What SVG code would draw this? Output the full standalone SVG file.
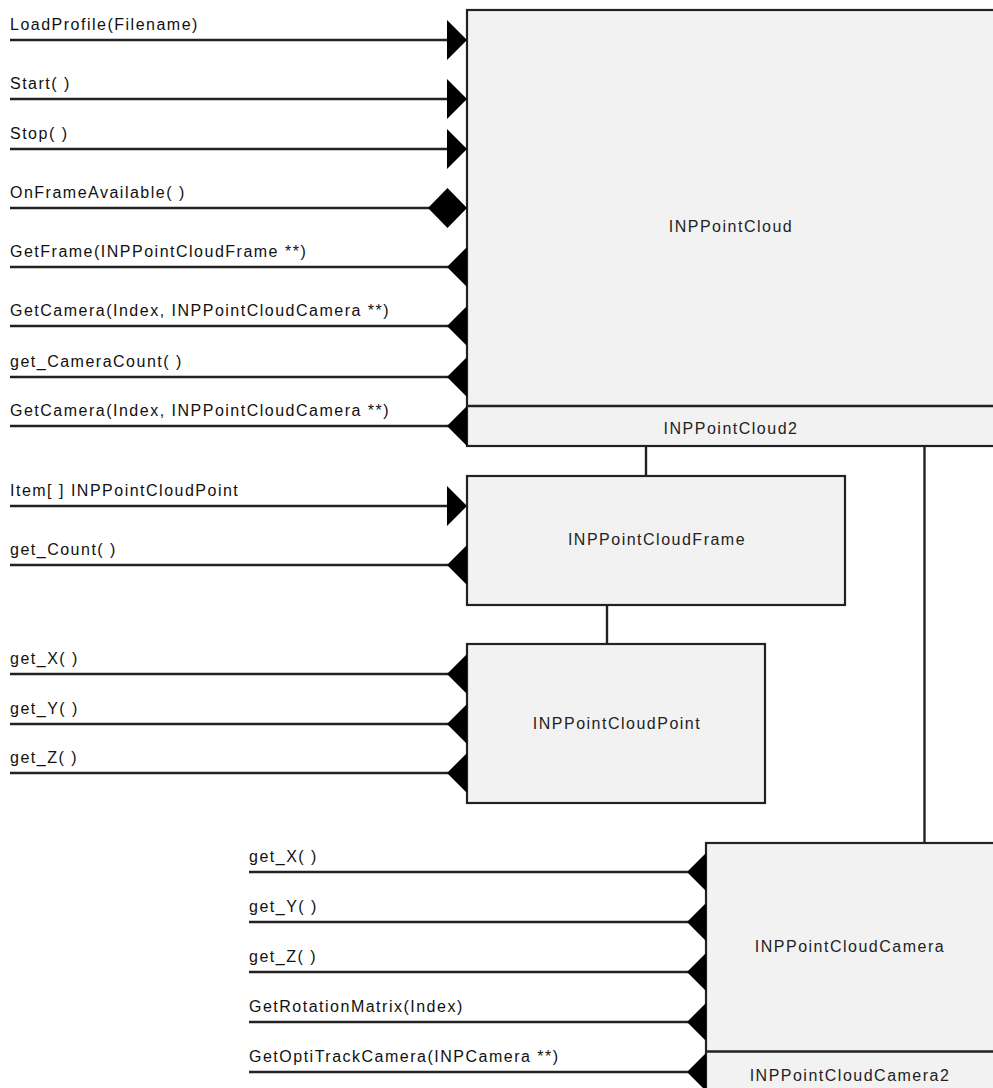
<svg xmlns="http://www.w3.org/2000/svg" width="993" height="1088" viewBox="0 0 993 1088">
<style>
.bg{fill:#ffffff}
.box{fill:#f2f2f2;stroke:#222;stroke-width:2.2}
.ln{stroke:#222;stroke-width:2.4;fill:none}
.ah{fill:#000;stroke:none}
.lbl{font-family:"Liberation Sans",Arial,sans-serif;font-size:16px;letter-spacing:1.5px;fill:#111}
.nm{font-family:"Liberation Sans",Arial,sans-serif;font-size:16px;letter-spacing:1.5px;fill:#222;text-anchor:middle}
</style>
<defs>
<polygon id="in" points="-20,-20 0,0 -20,20"/>
<polygon id="out" points="0,-20 -20,0 0,20"/>
<polygon id="outc" points="0,-19 -19,0 0,19"/>
<polygon id="dia" points="-39,0 -19.5,-20 0,0 -19.5,20"/>
</defs>
<rect class="bg" x="0" y="0" width="993" height="1088"/>

<g id="connectors">
<line class="ln" x1="646" y1="446" x2="646" y2="476"/>
<line class="ln" x1="607" y1="605" x2="607" y2="644"/>
<line class="ln" x1="924.5" y1="446" x2="924.5" y2="843"/>
</g>

<g id="INPPointCloud">
<rect class="box" x="467" y="10" width="530" height="436"/>
<line class="ln" x1="467" y1="406" x2="997" y2="406"/>
<text class="nm" x="731" y="232">INPPointCloud</text>
<text class="nm" x="731" y="434">INPPointCloud2</text>
</g>

<g id="INPPointCloudFrame">
<rect class="box" x="467" y="476" width="378" height="129"/>
<text class="nm" x="657" y="545">INPPointCloudFrame</text>
</g>

<g id="INPPointCloudPoint">
<rect class="box" x="467" y="644" width="298" height="159"/>
<text class="nm" x="617" y="729">INPPointCloudPoint</text>
</g>

<g id="INPPointCloudCamera">
<rect class="box" x="706" y="843" width="291" height="260"/>
<line class="ln" x1="706" y1="1051.5" x2="997" y2="1051.5"/>
<text class="nm" x="850" y="952">INPPointCloudCamera</text>
<text class="nm" x="850" y="1081">INPPointCloudCamera2</text>
</g>

<g id="methods">
<line class="ln" x1="10" y1="40" x2="455" y2="40"/><use href="#in" class="ah" x="467" y="40"/>
<text class="lbl" x="10" y="30">LoadProfile(Filename)</text>
<line class="ln" x1="10" y1="99" x2="455" y2="99"/><use href="#in" class="ah" x="467" y="99"/>
<text class="lbl" x="10" y="89">Start( )</text>
<line class="ln" x1="10" y1="149" x2="455" y2="149"/><use href="#in" class="ah" x="467" y="149"/>
<text class="lbl" x="10" y="139">Stop( )</text>
<line class="ln" x1="10" y1="208" x2="440" y2="208"/><use href="#dia" class="ah" x="467" y="208"/>
<text class="lbl" x="10" y="198">OnFrameAvailable( )</text>
<line class="ln" x1="10" y1="267" x2="455" y2="267"/><use href="#out" class="ah" x="467" y="267"/>
<text class="lbl" x="10" y="257">GetFrame(INPPointCloudFrame **)</text>
<line class="ln" x1="10" y1="326" x2="455" y2="326"/><use href="#out" class="ah" x="467" y="326"/>
<text class="lbl" x="10" y="316">GetCamera(Index, INPPointCloudCamera **)</text>
<line class="ln" x1="10" y1="377" x2="455" y2="377"/><use href="#out" class="ah" x="467" y="377"/>
<text class="lbl" x="10" y="367">get_CameraCount( )</text>
<line class="ln" x1="10" y1="426" x2="455" y2="426"/><use href="#out" class="ah" x="467" y="426"/>
<text class="lbl" x="10" y="416">GetCamera(Index, INPPointCloudCamera **)</text>

<line class="ln" x1="10" y1="506" x2="455" y2="506"/><use href="#in" class="ah" x="467" y="506"/>
<text class="lbl" x="10" y="496">Item[ ] INPPointCloudPoint</text>
<line class="ln" x1="10" y1="565" x2="455" y2="565"/><use href="#out" class="ah" x="467" y="565"/>
<text class="lbl" x="10" y="555">get_Count( )</text>

<line class="ln" x1="10" y1="674" x2="455" y2="674"/><use href="#out" class="ah" x="467" y="674"/>
<text class="lbl" x="10" y="664">get_X( )</text>
<line class="ln" x1="10" y1="724" x2="455" y2="724"/><use href="#out" class="ah" x="467" y="724"/>
<text class="lbl" x="10" y="714">get_Y( )</text>
<line class="ln" x1="10" y1="773" x2="455" y2="773"/><use href="#out" class="ah" x="467" y="773"/>
<text class="lbl" x="10" y="763">get_Z( )</text>

<line class="ln" x1="249" y1="872" x2="695" y2="872"/><use href="#outc" class="ah" x="706" y="872"/>
<text class="lbl" x="249" y="862">get_X( )</text>
<line class="ln" x1="249" y1="922" x2="695" y2="922"/><use href="#outc" class="ah" x="706" y="922"/>
<text class="lbl" x="249" y="912">get_Y( )</text>
<line class="ln" x1="249" y1="972" x2="695" y2="972"/><use href="#outc" class="ah" x="706" y="972"/>
<text class="lbl" x="249" y="962">get_Z( )</text>
<line class="ln" x1="249" y1="1022" x2="695" y2="1022"/><use href="#outc" class="ah" x="706" y="1022"/>
<text class="lbl" x="249" y="1012">GetRotationMatrix(Index)</text>
<line class="ln" x1="249" y1="1072" x2="695" y2="1072"/><use href="#outc" class="ah" x="706" y="1072"/>
<text class="lbl" x="249" y="1062">GetOptiTrackCamera(INPCamera **)</text>
</g>
</svg>
